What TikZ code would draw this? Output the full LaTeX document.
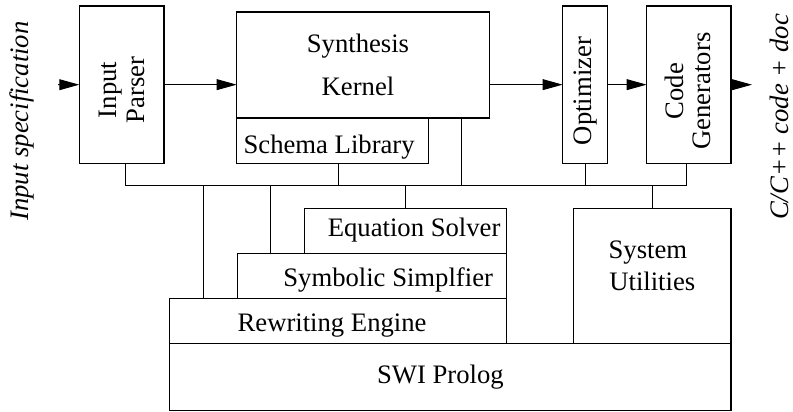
\documentclass[tikz,border=0pt]{standalone}
\usepackage{fontspec}
\setmainfont{Liberation Serif}
\usetikzlibrary{arrows.meta}

\def\pxu{0.6pt}
\tikzset{
  blk/.style={draw, line width=0.8pt, inner sep=0pt, outer sep=0pt},
  txt/.style={font=\fontsize{16}{16.5}\selectfont, inner sep=0pt},
  link/.style={line width=0.6pt},
  flow/.style={line width=0.6pt, -{Triangle[length=12pt,width=6.5pt]}},
}
% box from left/top/right/bottom
\newcommand{\blkbox}[5]{%
  \node[blk, minimum width={(#4-#2)*\pxu}, minimum height={(#5-#3)*\pxu}]
    (#1) at ({(#2+#4)/2},{(#3+#5)/2}) {};}

\begin{document}
\begin{tikzpicture}[x=\pxu, y=-\pxu]
  \useasboundingbox (0,0) rectangle (793,412);

  % tool chain
  \blkbox{parser}{79.3}{6}{164}{163.3}
  \blkbox{synth}{236.7}{12}{489.3}{118}
  \blkbox{schema}{236.7}{118}{428.3}{163.3}
  \blkbox{optim}{562.7}{6}{607.3}{163.3}
  \blkbox{codegen}{646.7}{6}{731}{163.3}

  % support layers
  \blkbox{eqsolve}{304.3}{208.3}{506.7}{253.3}
  \blkbox{simplify}{237.3}{253.3}{506.7}{298.3}
  \blkbox{rewrite}{169.3}{298.3}{506.7}{343.3}
  \blkbox{sysutil}{573.3}{208.3}{731}{343.3}
  \blkbox{swi}{169.3}{343.3}{731}{410.7}

  % texts
  \node[txt, rotate=90, align=center] (parser-t) at (122,90) {Input\\Parser};
  \node[txt, anchor=base] (synth-t1) at (358,52.7) {Synthesis};
  \node[txt, anchor=base] (synth-t2) at (358,95.7) {Kernel};
  \node[txt, anchor=base west] (schema-t) at (243.3,153.3) {Schema Library};
  \node[txt, rotate=90] (optim-t) at (586,91) {Optimizer};
  \node[txt, rotate=90, align=center] (codegen-t) at (688,91) {Code\\Generators};
  \node[txt, anchor=base east] (eqsolve-t) at (500.7,236.7) {Equation Solver};
  \node[txt, anchor=base east] (simplify-t) at (493.3,286) {Symbolic Simplfier};
  \node[txt, anchor=base west] (rewrite-t) at (237.3,331.7) {Rewriting Engine};
  \node[txt, anchor=base east] (swi-t) at (504,383.3) {SWI Prolog};
  \node[txt, anchor=base west] (sysutil-t1) at (608.3,258.3) {System};
  \node[txt, anchor=base west] (sysutil-t2) at (609,290) {Utilities};

  \node[txt, rotate=90, font=\fontsize{16}{16.5}\selectfont\itshape]
    (inspec) at (22,121) {Input specification};
  \node[txt, rotate=90, font=\fontsize{16}{16.5}\selectfont\itshape]
    (outspec) at (779,117) {C/C++ code + doc};

  % data flow
  \coordinate (in) at (58,84.7);
  \coordinate (out) at (752,84.7);
  \draw[flow] (in) -- (parser);
  \draw[flow] (parser) -- (parser -| synth.west);
  \draw[flow] (synth.east |- optim) -- (optim);
  \draw[flow] (optim) -- (codegen);
  \draw[flow] (codegen) -- (out);

  % shared bus
  \coordinate (busL) at (125,185.7);
  \coordinate (busR) at (686,185.7);
  \draw[link] (parser.south -| busL) -- (busL) -- (busR) -- (codegen.south -| busR);
  \draw[link] (schema.south -| 338.3,0) -- (busL -| 338.3,0);
  \draw[link] (synth.south -| 461.7,0) -- (busL -| 461.7,0);
  \draw[link] (optim.south -| 585.7,0) -- (busL -| 585.7,0);
  \draw[link] (rewrite.north -| 203.3,0) -- (busL -| 203.3,0);
  \draw[link] (simplify.north -| 270.7,0) -- (busL -| 270.7,0);
  \draw[link] (eqsolve.north -| 405.7,0) -- (busL -| 405.7,0);
  \draw[link] (sysutil.north -| 652.7,0) -- (busL -| 652.7,0);
\end{tikzpicture}
\end{document}
